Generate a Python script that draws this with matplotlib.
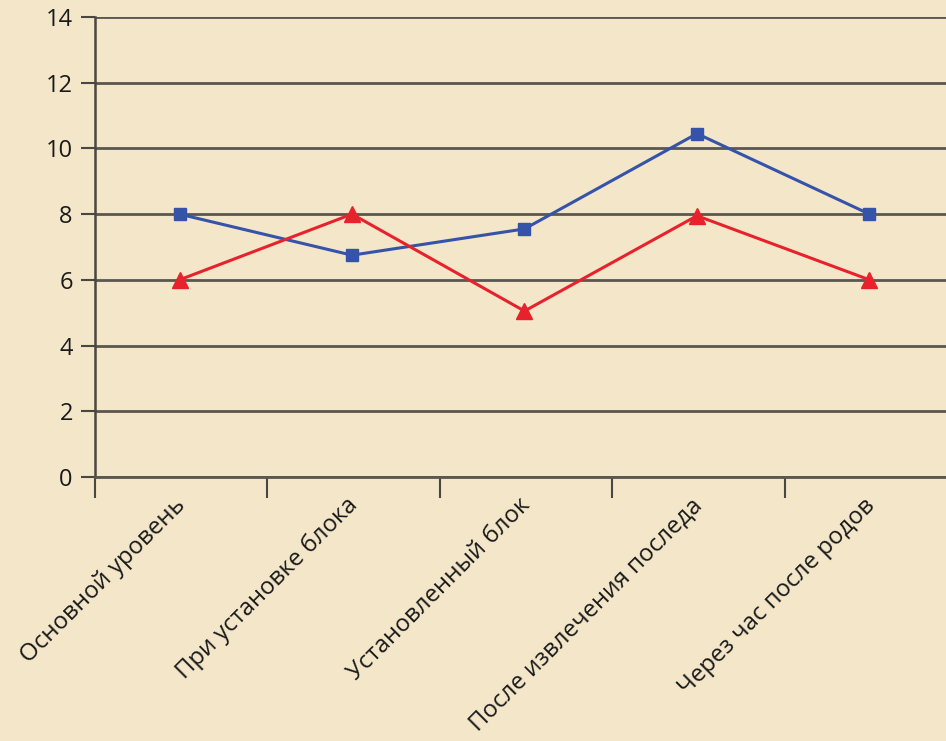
import numpy as np
import matplotlib.pyplot as plt

plt.rcParams['font.family'] = ['Open Sans', 'DejaVu Sans']

stages = ['Основной уровень', 'При установке блока', 'Установленный блок',
          'После извлечения последа', 'Через час после родов']
blue_vals = [8.0, 6.75, 7.55, 10.45, 8.0]
red_vals = [6.0, 8.0, 5.05, 7.95, 6.0]

bg = '#f3e6c9'
fig = plt.figure(figsize=(9.46, 7.41), dpi=100, facecolor=bg)
ax = fig.add_axes([0.1004, 0.3563, 0.9117, 0.6208], facecolor=bg)

x = np.arange(len(stages)) + 0.49
ax.plot(x, blue_vals, color='#3553a9', lw=2.2, marker='s', ms=9, zorder=3)
ax.plot(x, red_vals, color='#e8222c', lw=2.2, marker='^', ms=12, zorder=4)

ax.set_xlim(0, len(stages))
ax.set_ylim(0, 14)
ax.set_yticks(range(0, 15, 2))
ax.yaxis.grid(True, color='#5a5650', lw=2)
ax.set_axisbelow(True)

for s in ['top', 'right']:
    ax.spines[s].set_visible(False)
ax.spines['left'].set_color('#4a4640')
ax.spines['left'].set_linewidth(1.8)
ax.spines['bottom'].set_color('#5a5650')
ax.spines['bottom'].set_linewidth(2)

ax.set_xticks(np.arange(len(stages) + 1))
ax.set_xticklabels([])
ax.tick_params(axis='x', length=15, width=1.5, color='#4a4640')
ax.tick_params(axis='y', length=10, width=1.5, color='#4a4640',
               labelsize=17, pad=6, labelcolor='#1a1a1a')

for xi, name in zip(x, stages):
    ax.text(xi - 0.035, -0.5, name, rotation=45, ha='right', va='top',
            rotation_mode='anchor', fontsize=17.3, color='#1a1a1a')

fig.savefig('out.png', dpi=100, facecolor=bg)
